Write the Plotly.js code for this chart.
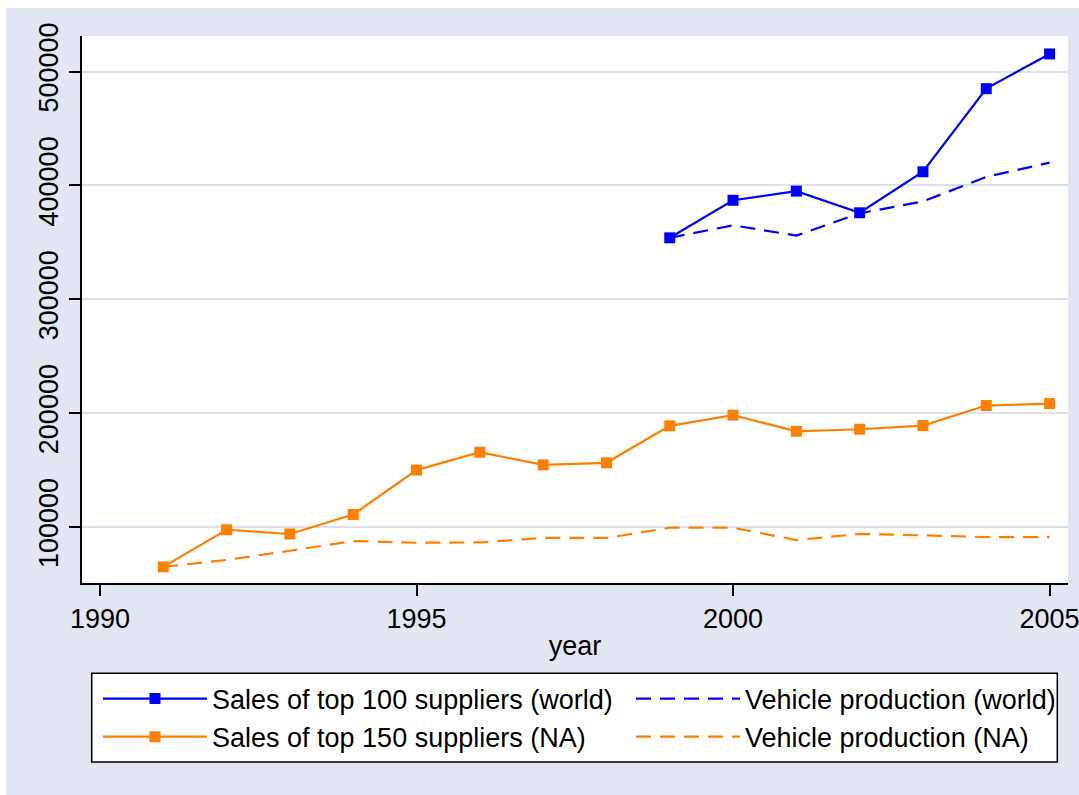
<!DOCTYPE html>
<html>
<head>
<meta charset="utf-8">
<script src="https://cdn.plot.ly/plotly-3.0.1.min.js"></script>
<style>
  html, body { margin: 0; padding: 0; background: #ffffff; }
  #chart { position: absolute; left: 6px; top: 8px; width: 1073px; height: 787px; }
</style>
</head>
<body>
<div id="chart"></div>
<script>
// ---- data ----
const yearsWorld = [1999, 2000, 2001, 2002, 2003, 2004, 2005];
const salesWorld = [354000, 387000, 395000, 376000, 412000, 485000, 515500];
const prodWorld  = [354000, 365000, 356000, 375500, 386000, 407500, 420000];

const yearsNA = [1991, 1992, 1993, 1994, 1995, 1996, 1997, 1998, 1999, 2000, 2001, 2002, 2003, 2004, 2005];
const salesNA = [65000, 97600, 93900, 111000, 150000, 165700, 154600, 156400, 188900, 198300, 184100, 185900, 189100, 206700, 208400];
const prodNA  = [65000, 71100, 79200, 87700, 86200, 86500, 90400, 90400, 99400, 99400, 88600, 93900, 92700, 91200, 91200];

const seriesNames = [
  'Sales of top 100 suppliers (world)',
  'Vehicle production (world)',
  'Sales of top 150 suppliers (NA)',
  'Vehicle production (NA)'
];
const xTicks = [1990, 1995, 2000, 2005];
const yTicks = [100000, 200000, 300000, 400000, 500000];

// ---- styles ----
const BLUE = '#0000ff';
const ORANGE = '#ff8000';
const BG = '#e1e6f0';
const GRID = '#dde3ee';
const FONT = 'Liberation Sans, Arial, Helvetica, sans-serif';
const FS = 27;

const traces = [
  { x: yearsWorld, y: salesWorld, name: seriesNames[0], type: 'scatter', mode: 'lines+markers',
    legend: 'legend',
    line: { color: BLUE, width: 2.2 }, marker: { symbol: 'square', size: 11, color: BLUE } },
  { x: yearsWorld, y: prodWorld, name: seriesNames[1], type: 'scatter', mode: 'lines',
    legend: 'legend2',
    line: { color: BLUE, width: 2.2, dash: '15px,9px' } },
  { x: yearsNA, y: salesNA, name: seriesNames[2], type: 'scatter', mode: 'lines+markers',
    legend: 'legend',
    line: { color: ORANGE, width: 2.2 }, marker: { symbol: 'square', size: 11, color: ORANGE } },
  { x: yearsNA, y: prodNA, name: seriesNames[3], type: 'scatter', mode: 'lines',
    legend: 'legend2',
    line: { color: ORANGE, width: 2.2, dash: '15px,9px' } }
];

const legendCommon = {
  orientation: 'v',
  xref: 'container', yref: 'container',
  xanchor: 'left',
  y: 1 - 666.5 / 787, yanchor: 'top',
  bgcolor: 'rgba(0,0,0,0)',
  borderwidth: 0,
  font: { family: FONT, size: FS, color: '#000000' },
  itemwidth: 104,
  traceorder: 'normal',
  tracegroupgap: 0
};

const layout = {
  width: 1073,
  height: 787,
  paper_bgcolor: BG,
  plot_bgcolor: '#ffffff',
  font: { family: FONT, size: FS, color: '#000000' },
  margin: { l: 76, r: 11.3, t: 27.7, b: 212, pad: 0, autoexpand: false },
  showlegend: true,
  xaxis: {
    range: [1989.716, 2005.291],
    tickvals: xTicks,
    ticktext: xTicks.map(String),
    ticklabeloverflow: 'allow',
    showgrid: false,
    zeroline: false,
    showline: true, linecolor: '#000000', linewidth: 2,
    ticks: 'outside', ticklen: 11, tickwidth: 2, tickcolor: '#000000',
    tickfont: { family: FONT, size: FS, color: '#000000' },
    title: { text: 'year', font: { family: FONT, size: FS, color: '#000000' }, standoff: 3 }
  },
  yaxis: {
    range: [50850, 531250],
    tickvals: yTicks,
    ticktext: yTicks.map(String),
    tickangle: -90,
    showgrid: true, gridcolor: GRID, gridwidth: 2,
    zeroline: false,
    showline: true, linecolor: '#000000', linewidth: 2,
    ticks: 'outside', ticklen: 11, tickwidth: 2, tickcolor: '#000000',
    tickfont: { family: FONT, size: FS, color: '#000000' }
  },
  legend: Object.assign({}, legendCommon, { x: 92 / 1073 }),
  legend2: Object.assign({}, legendCommon, { x: 625 / 1073 }),
  shapes: [{
    type: 'rect', xref: 'paper', yref: 'paper', layer: 'below',
    x0: 0.00984, x1: 0.98915, y0: -0.32706, y1: -0.16499,
    fillcolor: '#ffffff',
    line: { color: '#000000', width: 1.5 }
  }]
};

Plotly.newPlot('chart', traces, layout, { staticPlot: true, displayModeBar: false });
</script>
</body>
</html>
